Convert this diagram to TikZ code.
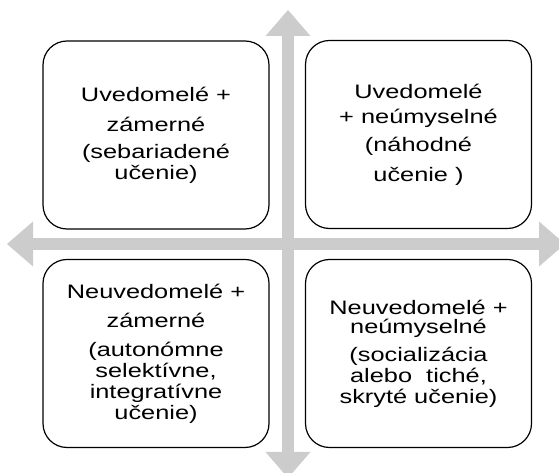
\documentclass[tikz,border=0pt]{standalone}
\usepackage{fontspec}
\setmainfont{Liberation Sans}[FakeStretch=1.3]
\usetikzlibrary{arrows.meta}

\begin{document}
\begin{tikzpicture}[
  x=1pt,y=1pt,
  box/.style={draw, line width=1.2pt, rounded corners=24pt, align=center, minimum width=226pt, minimum height=188pt, inner sep=0pt, font=\fontsize{19.5}{21}\selectfont},
  axis/.style={draw=gray!40, line width=11.5pt, {Triangle[width=45pt,length=26pt,line width=0pt]}-{Triangle[width=45pt,length=26pt,line width=0pt]}}
]
\useasboundingbox (0,0) rectangle (559,473);

\coordinate (west) at (7,229);
\coordinate (east) at (565,229);
\coordinate (north) at (288,463);
\coordinate (south) at (288,-5);
\draw[axis] (west) -- (east);
\draw[axis] (south) -- (north);

\node[box] (awareint) at (156,338) {Uvedomelé +\\[9pt] zámerné\\[6pt] (sebariadené\\ učenie)};
\node[box] (awareinc) at (418.5,338.5) {Uvedomelé\\[4pt] + neúmyselné\\[7pt] (náhodné\\[9pt] učenie )};
\node[box] (unawareint) at (156,119.5) {Neuvedomelé +\\[8pt] zámerné\\[8pt] (autonómne\\ selektívne,\\ integratívne\\ učenie)};
\node[box] (unawareinc) at (418.5,119.5) {Neuvedomelé +\\[-2pt] neúmyselné\\[7pt] (socializácia\\ alebo~ tiché,\\ skryté učenie)};
\end{tikzpicture}
\end{document}
